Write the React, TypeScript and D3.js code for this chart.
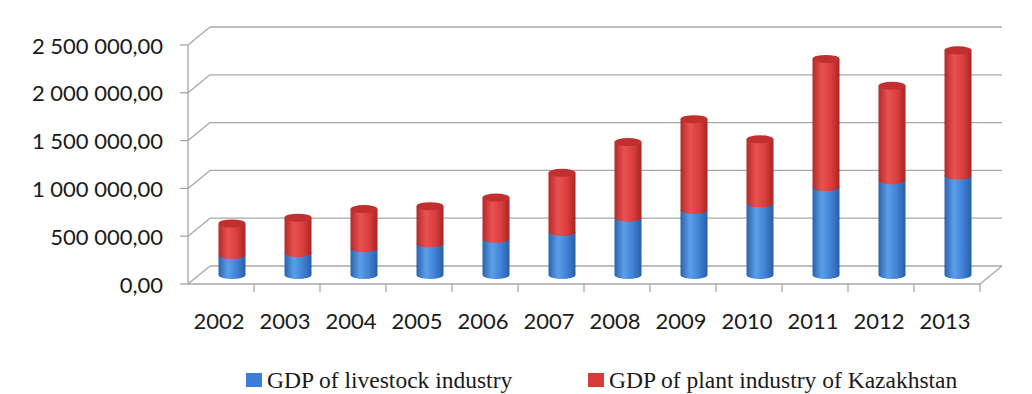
import React from 'react';
import * as d3 from 'd3';

const years = ['2002', '2003', '2004', '2005', '2006', '2007', '2008', '2009', '2010', '2011', '2012', '2013'];
const livestock = [210000, 230000, 280000, 330000, 380000, 450000, 600000, 680000, 750000, 920000, 990000, 1040000];
const plant = [330000, 370000, 410000, 390000, 430000, 620000, 790000, 950000, 670000, 1340000, 990000, 1310000];
const yTicks = [0, 500000, 1000000, 1500000, 2000000, 2500000];
const seriesNames = ['GDP of livestock industry', 'GDP of plant industry of Kazakhstan'];

const W = 1032;
const H = 394;
// front plane of the 3d box and depth offset
const left = 188, right = 980, base = 284, top = 45;
const depthX = 22, depthY = -18;

const fmt = d3.formatLocale({ decimal: ',', thousands: ' ', grouping: [3], currency: ['', ''] }).format(',.2f');

export default function App() {
  const x = d3.scaleBand<string>().domain(years).range([left, right]);
  const y = d3.scaleLinear().domain([0, 2500000]).range([base, top]);
  const bw = x.bandwidth();
  const rx = 13.5, ry = 4;
  const grid = '#a8a8a8';

  // cylinder segment: straight top, rounded bottom
  const segment = (cx: number, y0: number, y1: number) =>
    `M${cx - rx},${y1} L${cx - rx},${y0} A${rx},${ry} 0 0 0 ${cx + rx},${y0} L${cx + rx},${y1} Z`;

  const midX = depthX / 2, midY = depthY / 2;

  return (
    <svg width={W} height={H} style={{ position: 'absolute', left: 0, top: 0, background: '#fff' }}>
      <defs>
        <linearGradient id="gBlue" x1="0" x2="1" y1="0" y2="0">
          <stop offset="0" stopColor="#2b62ad" />
          <stop offset="0.35" stopColor="#5c9ee8" />
          <stop offset="0.7" stopColor="#3f80d2" />
          <stop offset="1" stopColor="#2a5ea6" />
        </linearGradient>
        <linearGradient id="gRed" x1="0" x2="1" y1="0" y2="0">
          <stop offset="0" stopColor="#b42929" />
          <stop offset="0.35" stopColor="#ea5151" />
          <stop offset="0.7" stopColor="#d83d3d" />
          <stop offset="1" stopColor="#a92424" />
        </linearGradient>
      </defs>

      {/* back wall gridlines and left wall */}
      {yTicks.map(t => (
        <g key={t}>
          <line x1={left + depthX} x2={right + depthX} y1={y(t) + depthY} y2={y(t) + depthY} stroke={grid} strokeWidth={1.3} />
          <line x1={left} x2={left + depthX} y1={y(t)} y2={y(t) + depthY} stroke={grid} strokeWidth={1.3} />
          <line x1={left - 8} x2={left} y1={y(t)} y2={y(t)} stroke={grid} strokeWidth={1.3} />
          <text x={163} y={y(t)} textAnchor="end" dominantBaseline="central"
            style={{ font: '22px Lato, sans-serif', fill: '#1a1a1a' }}>{fmt(t)}</text>
        </g>
      ))}
      <line x1={left} x2={left} y1={y(0)} y2={y(2500000)} stroke={grid} strokeWidth={1.3} />
      {/* floor */}
      <line x1={left} x2={right} y1={base} y2={base} stroke={grid} strokeWidth={1.3} />
      <line x1={right} x2={right + depthX} y1={base} y2={base + depthY} stroke={grid} strokeWidth={1.3} />
      {years.map((yr, i) => (
        <line key={yr} x1={left + bw * (i + 1)} x2={left + bw * (i + 1)} y1={base} y2={base + 8} stroke={grid} strokeWidth={1.3} />
      ))}

      {/* cylinders */}
      {years.map((yr, i) => {
        const cx = (x(yr) as number) + bw / 2 + midX;
        const yb = y(0) + midY;
        const ym = y(livestock[i]) + midY;
        const yt = y(livestock[i] + plant[i]) + midY;
        return (
          <g key={yr}>
            <path d={segment(cx, yb, ym)} fill="url(#gBlue)" />
            <path d={segment(cx, ym, yt)} fill="url(#gRed)" />
            <ellipse cx={cx} cy={yt} rx={rx} ry={ry} fill="#c22f2f" />
          </g>
        );
      })}

      {/* category labels */}
      {years.map(yr => (
        <text key={yr} x={(x(yr) as number) + bw / 2 - 2} y={320} textAnchor="middle" dominantBaseline="central"
          style={{ font: '22px Lato, sans-serif', fill: '#1a1a1a' }}>{yr}</text>
      ))}

      {/* legend */}
      <rect x={246} y={373} width={16} height={14} fill="#3b7dd8" />
      <text x={267} y={388} style={{ font: '23.5px "Liberation Serif", serif', fill: '#1a1a1a' }}>{seriesNames[0]}</text>
      <rect x={588} y={373} width={16} height={14} fill="#d63b3b" />
      <text x={609} y={388} style={{ font: '23.5px "Liberation Serif", serif', fill: '#1a1a1a' }}>{seriesNames[1]}</text>
    </svg>
  );
}
